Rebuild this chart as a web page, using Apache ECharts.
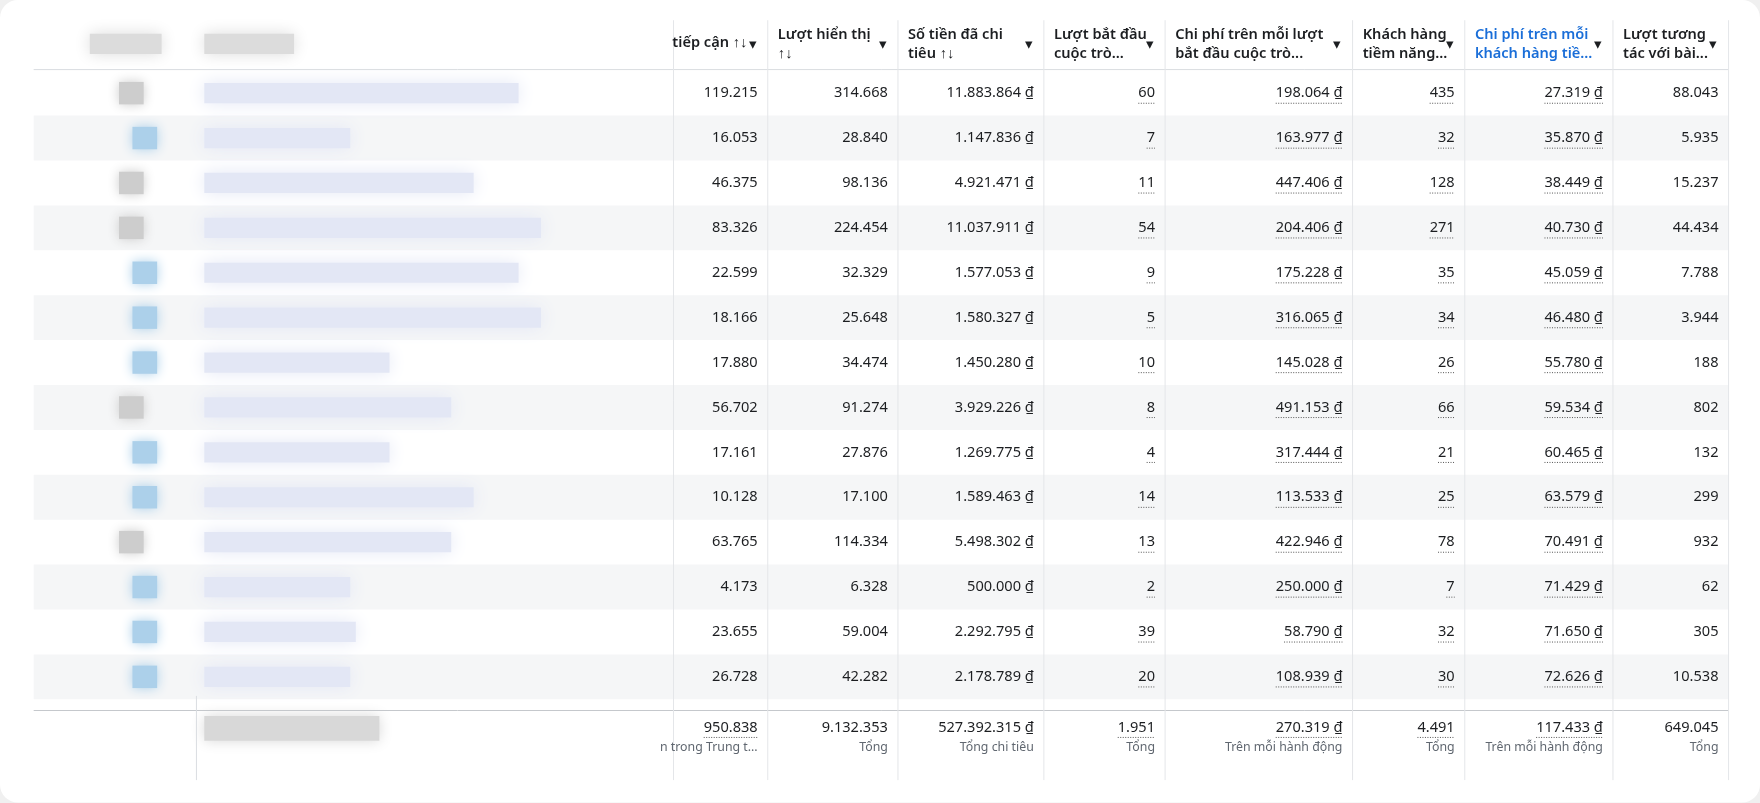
<!DOCTYPE html>
<html><head><meta charset="utf-8">
<script src="https://cdn.jsdelivr.net/npm/echarts@6/dist/echarts.min.js"></script>
<style>html,body{margin:0;background:#f0f0f0}#main{width:1760px;height:803px}</style>
</head><body><div id="main"></div>
<script>
var S = 1760 / 1568
var headers = [
  ['tiếp cận ↑↓', ''], ['Lượt hiển thị', '↑↓'], ['Số tiền đã chi', 'tiêu ↑↓'],
  ['Lượt bắt đầu', 'cuộc trò...'], ['Chi phí trên mỗi lượt', 'bắt đầu cuộc trò...'],
  ['Khách hàng', 'tiềm năng...'], ['Chi phí trên mỗi', 'khách hàng tiề...'], ['Lượt tương', 'tác với bài...']
]
var reach = ['119.215','16.053','46.375','83.326','22.599','18.166','17.880','56.702','17.161','10.128','63.765','4.173','23.655','26.728']
var impressions = ['314.668','28.840','98.136','224.454','32.329','25.648','34.474','91.274','27.876','17.100','114.334','6.328','59.004','42.282']
var spend = ['11.883.864 ₫','1.147.836 ₫','4.921.471 ₫','11.037.911 ₫','1.577.053 ₫','1.580.327 ₫','1.450.280 ₫','3.929.226 ₫','1.269.775 ₫','1.589.463 ₫','5.498.302 ₫','500.000 ₫','2.292.795 ₫','2.178.789 ₫']
var convStarts = ['60','7','11','54','9','5','10','8','4','14','13','2','39','20']
var costPerConv = ['198.064 ₫','163.977 ₫','447.406 ₫','204.406 ₫','175.228 ₫','316.065 ₫','145.028 ₫','491.153 ₫','317.444 ₫','113.533 ₫','422.946 ₫','250.000 ₫','58.790 ₫','108.939 ₫']
var leads = ['435','32','128','271','35','34','26','66','21','25','78','7','32','30']
var costPerLead = ['27.319 ₫','35.870 ₫','38.449 ₫','40.730 ₫','45.059 ₫','46.480 ₫','55.780 ₫','59.534 ₫','60.465 ₫','63.579 ₫','70.491 ₫','71.429 ₫','71.650 ₫','72.626 ₫']
var engagement = ['88.043','5.935','15.237','44.434','7.788','3.944','188','802','132','299','932','62','305','10.538']
var totals = ['950.838','9.132.353','527.392.315 ₫','1.951','270.319 ₫','4.491','117.433 ₫','649.045']
var totalLabels = ['n trong Trung t...','Tổng','Tổng chi tiêu','Tổng','Trên mỗi hành động','Tổng','Trên mỗi hành động','Tổng']
var columns = [reach, impressions, spend, convStarts, costPerConv, leads, costPerLead, engagement]
var underlined = [false, false, false, true, true, true, true, false]
var colEdges = [600, 684, 800, 930, 1038, 1205, 1305, 1437, 1540]

var font = '"Noto Sans", sans-serif'
var cellFont = 'normal ' + 13 * S + 'px ' + font
var ctx = document.createElement('canvas').getContext('2d')
function textW(s) { ctx.font = cellFont; return ctx.measureText(s).width / S }
var els = []
function r(x, y, w, h, fill, blur) {
  els.push({ type: 'rect', shape: { x: x * S, y: y * S, width: w * S, height: h * S },
    style: { fill: fill, shadowBlur: blur || 0, shadowColor: fill } })
}
function t(x, y, s, opt) {
  els.push({ type: 'text', x: x * S, y: y * S, style: { text: s, font: (opt.weight || 'normal') + ' ' + (opt.size || 13) * S + 'px ' + font, fill: opt.color || '#1c1e21', align: opt.align || 'left', verticalAlign: 'middle' } })
}
function ln(x1, y1, x2, y2, c, dash) {
  els.push({ type: 'line', shape: { x1: x1 * S, y1: y1 * S, x2: x2 * S, y2: y2 * S }, style: { stroke: c, lineWidth: 1, lineDash: dash || null } })
}
// card
els.push({ type: 'rect', shape: { x: 0, y: 0, width: 1568 * S, height: 715 * S, r: 18 }, style: { fill: '#fff' } })
// row shading
for (var i = 1; i < reach.length; i += 2) r(30, 63 + i * 40, 1510, 40, '#f5f6f7')
// blurred left side
r(80, 30, 64, 18, '#dcdcdc', 16)
r(182, 30, 80, 18, '#dcdcdc', 16)
var blueRow = [false, true, false, false, true, true, true, false, true, true, false, true, true, true]
var widths = [280, 130, 240, 300, 280, 300, 165, 220, 165, 240, 220, 130, 135, 130]
for (var i = 0; i < reach.length; i++) {
  var cy = 83 + i * 40
  var col = blueRow[i] ? '#acd0ea' : '#cdcdcd'
  r(blueRow[i] ? 118 : 106, cy - 10, 22, 20, col, 12)
  r(182, cy - 9, widths[i], 18, '#e3e7f5', 18)
}
r(182, 638, 156, 22, '#d8d8d8', 14)
// grid lines
ln(30, 62, 1540, 62, '#dadde1')
ln(30, 633, 1540, 633, '#c5c8cc')
ln(175, 620, 175, 695, '#dadde1')
for (var c = 0; c < colEdges.length; c++) ln(colEdges[c], 18, colEdges[c], 695, '#e4e6e9')
// headers
for (var c = 0; c < headers.length; c++) {
  var x0 = colEdges[c] + 9, x1 = colEdges[c + 1]
  var hc = c === 6 ? '#1a6ed8' : '#1c1e21'
  if (c === 0) t(x0 - 10, 38, headers[c][0], { weight: '600', size: 13, color: hc })
  else {
    t(x0, 31, headers[c][0], { weight: '600', size: 13, color: hc })
    t(x0, 48, headers[c][1], { weight: '600', size: 13, color: hc })
  }
  t(x1 - 10, 40, '▾', { size: 13, align: 'right' })
}
// cells
for (var c = 0; c < columns.length; c++) {
  var xr = colEdges[c + 1] - 9
  for (var i = 0; i < columns[c].length; i++) {
    var y = 83 + i * 40
    t(xr, y, columns[c][i], { size: 13, align: 'right' })
    if (underlined[c]) ln(xr - textW(columns[c][i]), y + 9, xr, y + 9, '#555', [1, 1.5])
  }
  t(xr, 648, totals[c], { size: 13, align: 'right' })
  t(xr, 666, totalLabels[c], { size: 11, align: 'right', color: '#606770' })
  if (c !== 1 && c !== 2 && c !== 7) ln(xr - textW(totals[c]), 657, xr, 657, '#555', [1, 1.5])
}
var chart = echarts.init(document.getElementById('main'))
chart.setOption({ graphic: { elements: els } })
</script></body></html>
